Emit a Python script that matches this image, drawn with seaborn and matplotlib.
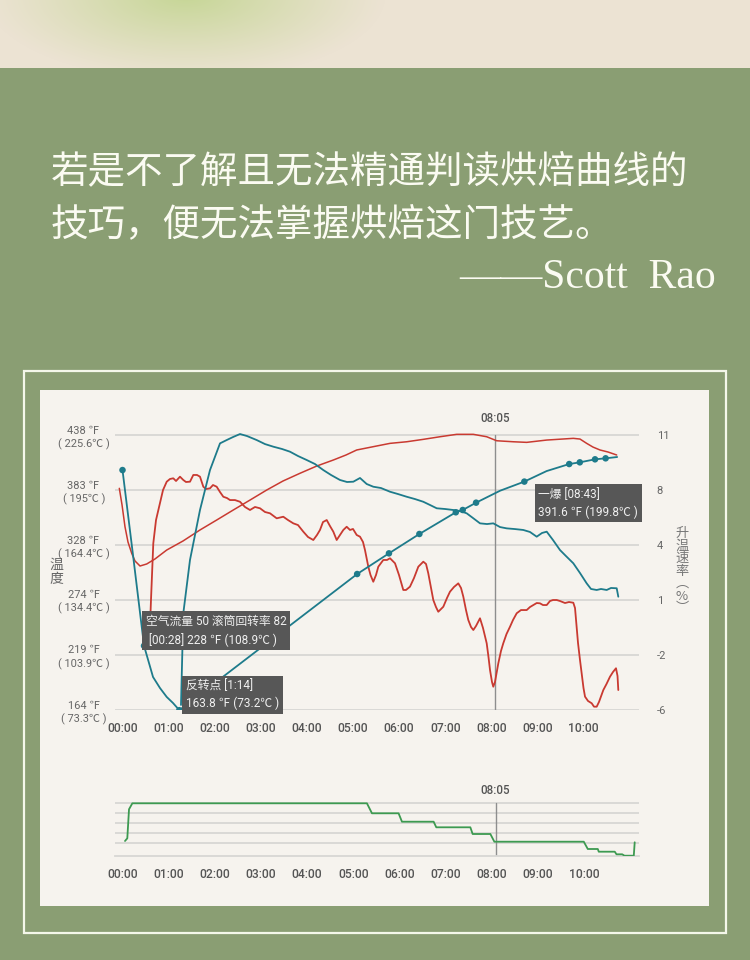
import numpy as np
import pandas as pd
import matplotlib
matplotlib.use("Agg")
import matplotlib.pyplot as plt
import seaborn as sns
from matplotlib.patches import Rectangle

# ---------------- data (time in minutes, temperatures in °F) ----------------
bt_t = [0.0, 0.228, 0.467, 0.662, 0.813, 0.959, 1.095, 1.233, 5.09, 5.78, 6.44,
        7.23, 7.38, 7.67, 8.19, 8.717, 9.20, 9.69, 9.92, 10.25, 10.48, 10.73]
bt_f = [403.1, 318.4, 228.0, 196.9, 185.9, 177.0, 171.0, 163.8, 299.5, 320.1, 339.4,
        361.0, 363.3, 370.6, 382.5, 391.6, 402.1, 409.1, 410.8, 413.8, 414.8, 416.1]
bt_mark_t = [0.0, 0.467, 1.233, 5.09, 5.78, 6.44, 7.23, 7.38, 7.67, 8.717, 9.69, 9.92, 10.25, 10.48]
bt_mark_f = [403.1, 228.0, 163.8, 299.5, 320.1, 339.4, 361.0, 363.3, 370.6, 391.6, 409.1, 410.8, 413.8, 414.8]

ror_t = [1.269, 1.319, 1.464, 1.681, 1.898, 2.115, 2.260, 2.397, 2.549, 2.701, 2.911, 3.091,
         3.271, 3.460, 3.633, 3.807, 3.996, 4.176, 4.356, 4.523, 4.718, 4.870, 5.007, 5.152,
         5.297, 5.440, 5.607, 5.803, 5.976, 6.165, 6.345, 6.525, 6.670, 6.816, 6.996, 7.176,
         7.321, 7.466, 7.603, 7.755, 7.907, 8.043, 8.189, 8.334, 8.514, 8.694, 8.839, 8.985,
         9.100, 9.202, 9.338, 9.490, 9.620, 9.779, 9.924, 10.069, 10.163, 10.286, 10.380,
         10.503, 10.597, 10.720, 10.755]
ror_f = [169.0, 260.4, 313.5, 363.3, 403.1, 429.7, 433.0, 436.0, 439.0, 437.0, 433.0, 429.0,
         426.4, 424.1, 421.4, 417.1, 413.1, 409.1, 403.1, 398.2, 393.2, 391.2, 391.5, 395.2,
         389.2, 386.5, 385.2, 381.5, 379.2, 376.5, 374.2, 371.5, 368.3, 365.0, 364.3, 363.3,
         362.3, 360.0, 355.3, 350.0, 349.3, 350.0, 346.3, 345.0, 344.3, 343.4, 341.4, 336.7,
         340.4, 341.7, 333.4, 323.4, 317.4, 310.2, 300.5, 290.2, 284.6, 283.6, 284.6,
         283.6, 285.6, 285.3, 276.9]

et_t = [-0.069, -0.01, 0.054, 0.119, 0.200, 0.271, 0.380, 0.525, 0.705, 0.959, 1.312, 1.681,
        2.043, 2.403, 2.766, 3.128, 3.482, 3.851, 4.213, 4.573, 4.848, 5.080, 5.440, 5.803,
        6.165, 6.525, 6.887, 7.249, 7.610, 7.900, 8.117, 8.477, 8.768, 9.202, 9.779, 9.924,
        10.069, 10.206, 10.358, 10.531, 10.720]
et_f = [384.9, 368.3, 346.6, 331.4, 320.1, 312.5, 307.5, 309.5, 314.5, 323.4, 332.4, 343.4,
        353.3, 363.3, 373.2, 383.2, 392.2, 399.9, 407.1, 413.1, 418.1, 423.1, 426.4, 429.7,
        431.3, 433.7, 436.3, 438.7, 438.7, 436.3, 432.3, 431.3, 430.7, 433.0, 434.7, 434.0,
        429.7, 426.0, 423.1, 421.1, 418.1]

air_t = [0.586, 0.618, 0.668, 0.727, 0.813, 0.879, 0.959, 1.030, 1.102, 1.161, 1.247, 1.319,
         1.377, 1.464, 1.536, 1.616, 1.681, 1.753, 1.811, 1.898, 1.963, 2.043, 2.115, 2.187,
         2.267, 2.332, 2.440, 2.549, 2.657, 2.766, 2.874, 2.983, 3.091, 3.200, 3.345, 3.488,
         3.590, 3.705, 3.807, 3.922, 4.024, 4.139, 4.219, 4.284, 4.349, 4.430, 4.501, 4.573,
         4.646, 4.718, 4.790, 4.863, 4.935, 5.000, 5.080, 5.152, 5.217, 5.260, 5.332, 5.380,
         5.440, 5.499, 5.549, 5.657, 5.738, 5.803, 5.911, 5.998, 6.091, 6.150, 6.236, 6.323,
         6.417, 6.525, 6.584, 6.633, 6.692, 6.742, 6.800, 6.850, 6.909, 6.959, 7.039, 7.104,
         7.191, 7.284, 7.343, 7.393, 7.451, 7.501, 7.560, 7.610, 7.668, 7.755, 7.820, 7.900,
         7.939, 7.972, 8.015, 8.043, 8.080, 8.152, 8.210, 8.260, 8.330, 8.406, 8.471, 8.551,
         8.644, 8.768, 8.839, 8.911, 8.985, 9.056, 9.121, 9.202, 9.273, 9.338, 9.419, 9.490,
         9.599, 9.685, 9.779, 9.816, 9.852, 9.881, 9.924, 9.967, 10.000, 10.033, 10.098,
         10.178, 10.228, 10.286, 10.336, 10.430, 10.499, 10.575, 10.640, 10.705, 10.738, 10.755]
air_f = [233.7, 273.6, 330.1, 353.3, 370.0, 383.2, 391.5, 394.2, 394.9, 392.2, 396.5, 393.2,
         391.2, 391.5, 398.2, 398.2, 396.5, 386.5, 384.2, 384.9, 388.2, 386.5, 381.2, 376.5,
         375.2, 373.2, 373.2, 371.5, 366.3, 363.3, 366.3, 365.0, 361.3, 360.0, 355.0, 356.6,
         353.3, 350.0, 348.3, 341.7, 336.4, 333.4, 338.4, 343.4, 351.3, 353.3, 347.3, 341.7,
         333.4, 338.4, 343.4, 346.6, 343.4, 344.4, 338.4, 336.7, 331.4, 323.4, 306.8, 298.5,
         291.8, 298.5, 306.8, 313.5, 313.5, 315.2, 310.2, 298.5, 283.6, 283.6, 286.9, 295.5,
         306.8, 311.8, 309.5, 300.2, 285.6, 273.6, 266.6, 261.9, 264.6, 266.9, 275.6, 281.9,
         286.6, 290.2, 285.6, 276.9, 263.6, 253.7, 246.7, 243.7, 247.7, 255.4, 245.7, 230.5,
         216.8, 203.9, 191.9, 187.2, 191.9, 210.5, 222.8, 230.5, 239.7, 247.0, 253.7, 260.4,
         263.6, 263.6, 266.6, 268.6, 270.6, 270.3, 268.6, 268.6, 272.6, 273.6, 273.6, 272.6,
         270.6, 271.6, 270.9, 265.6, 247.0, 230.8, 213.8, 197.9, 185.9, 177.3, 173.0,
         170.7, 167.3, 167.3, 172.0, 183.9, 189.9, 197.2, 201.9, 205.6, 197.9, 183.9]

flow_t = [0.054, 0.104, 0.141, 0.213, 5.297, 5.406, 5.983, 6.056, 6.742, 6.80, 7.538, 7.588,
          7.972, 8.058, 9.996, 10.083, 10.30, 10.321, 10.668, 10.705, 10.829, 10.878, 11.08, 11.10]
flow_v = [12.3, 15.0, 44.0, 50.0, 50.0, 40.0, 40.0, 31.6, 31.6, 26.0, 26.0, 19.3,
          19.3, 11.6, 11.6, 4.3, 4.3, 1.6, 1.6, -1.0, -1.0, -2.4, -2.4, 11.0]

temp_ticks = [164, 219, 274, 328, 383, 438]
temp_labels = ["164 ℉\n( 73.3℃ )", "219 ℉\n( 103.9℃ )", "274 ℉\n( 134.4℃ )",
               "328 ℉\n( 164.4℃ )", "383 ℉\n( 195℃ )", "438 ℉\n( 225.6℃ )"]
ror_labels = ["-6", "-2", "1", "4", "8", "11"]
minute_ticks = list(range(11))
minute_labels = [f"{m:02d}:00" for m in minute_ticks]
fc_t = 8 + 5 / 60
flow_grid = [10, 20, 30, 40, 50]

# ---------------- style ----------------
sns.set_theme(style="white")
plt.rcParams['font.family'] = ['Roboto', 'Noto Sans CJK SC', 'DejaVu Sans']
plt.rcParams['axes.unicode_minus'] = False

TEAL = '#1E7B8B'
RED = '#C93A31'
GREEN = '#3D9A51'
GRID = '#D8D7D4'
TXT = '#555555'
BG = '#8A9E73'
PANEL = '#F6F3EE'

W, H = 750, 960
fig = plt.figure(figsize=(7.5, 9.6), dpi=100)
fig.patch.set_facecolor(BG)


def fx(px):
    return px / W


def fy(py):
    return 1 - py / H


# frame and panel (drawn beneath the axes)
fig.patches.append(Rectangle((fx(24), fy(933)), 702 / W, 562 / H, transform=fig.transFigure,
                             fill=False, ec='#F4F7EA', lw=1.6, zorder=-10))
fig.patches.append(Rectangle((fx(40), fy(906)), 669 / W, 516 / H, transform=fig.transFigure,
                             fc=PANEL, ec='none', zorder=-10))

# top beige band with soft green glow
band = fig.add_axes([0, fy(68), 1, 68 / H])
band.set_axis_off()
yy, xx = np.mgrid[0:68, 0:750]
d = np.sqrt(((xx - 185) / 200.0) ** 2 + ((yy + 5) / 85.0) ** 2)
w = np.clip(1 - d, 0, 1) ** 1.1
base = np.array([236, 227, 211]) / 255
blob = np.array([198, 214, 150]) / 255
img = base * (1 - w[..., None]) + blob * w[..., None]
band.imshow(img, aspect='auto', extent=[0, 750, 68, 0], interpolation='bilinear')

# quote
QC = '#FBFBF2'
fig.text(fx(51), fy(173), "若是不了解且无法精通判读烘焙曲线的", fontsize=27, color=QC,
         family=['Noto Sans CJK SC'], va='center', ha='left')
fig.text(fx(51), fy(226), "技巧，便无法掌握烘焙这门技艺。", fontsize=27, color=QC,
         family=['Noto Sans CJK SC'], va='center', ha='left')
fig.text(fx(716), fy(278), "——Scott  Rao", fontsize=30, color=QC,
         family=['Liberation Serif'], va='center', ha='right')

# ---------------- main chart ----------------
L, R = 115, 638.5
XL = ((L - 122.5) / 46.1, (R - 122.5) / 46.1)
ax = fig.add_axes([fx(L), fy(710), (R - L) / W, (710 - 425) / H])
ax.set_facecolor('none')
ax.set_xlim(XL)
ax.set_ylim(164, 448.0)
for s in ax.spines.values():
    s.set_visible(False)
ax.set_yticks(temp_ticks)
ax.set_yticklabels(temp_labels, fontsize=7.9, color='#666666', linespacing=1.3)
for lab in ax.get_yticklabels():
    lab.set_horizontalalignment('center')
ax.tick_params(axis='y', length=0, pad=22.5)
ax.yaxis.grid(True, color=GRID, lw=1.3)
ax.set_xticks(minute_ticks)
ax.set_xticklabels(minute_labels, fontsize=8.7, color=TXT, fontweight='medium')
ax.tick_params(axis='x', length=4.5, width=1, color='#CFCFCF', pad=4.2, direction='out')

ax2 = ax.twinx()
ax2.set_ylim(ax.get_ylim())
ax2.set_yticks(temp_ticks)
ax2.set_yticklabels(ror_labels, fontsize=8, color='#666666')
ax2.tick_params(axis='y', length=0, pad=13)
for s in ax2.spines.values():
    s.set_visible(False)

sns.lineplot(x=et_t, y=et_f, ax=ax, color=RED, lw=1.1, sort=False, estimator=None, zorder=3)
sns.lineplot(x=air_t, y=air_f, ax=ax, color=RED, lw=1.3, sort=False, estimator=None, zorder=3)
sns.lineplot(x=ror_t, y=ror_f, ax=ax, color=TEAL, lw=1.3, sort=False, estimator=None, zorder=3)
sns.lineplot(x=bt_t, y=bt_f, ax=ax, color=TEAL, lw=1.3, sort=False, estimator=None, zorder=4)
sns.scatterplot(x=bt_mark_t, y=bt_mark_f, ax=ax, color=TEAL, s=22, edgecolor='none', zorder=5)
ax.set_xlabel('')
ax.set_ylabel('')

ax.axvline(fc_t, ymin=0, ymax=(438 - 164) / (448 - 164), color='#8E8E8E', lw=1.0, zorder=2)
ax.text(fc_t, 454, "08:05", ha='center', va='center', fontsize=8.3, color=TXT,
        fontweight='medium', clip_on=False)

box = dict(boxstyle='square,pad=0.3', fc='#575757', ec='none')
ann = [("空气流量 50 滚筒回转率 82\n [00:28] 228 ℉ (108.9℃ )", 0.467, 228.0, 2, 31),
       ("反转点 [1:14]\n163.8 ℉ (73.2℃ )", 1.233, 163.8, 6.6, 31),
       ("一爆 [08:43]\n391.6 ℉ (199.8℃ )", 8.717, 391.6, 14, -6)]
for txt, tx, ty, dx, dy in ann:
    ax.annotate(txt, xy=(tx, ty), xytext=(dx, dy), textcoords='offset pixels',
                ha='left', va='top', fontsize=8.5, color='#F0F0F0', linespacing=1.45,
                bbox=box, zorder=10, annotation_clip=False)

fig.text(fx(56), fy(572), "温\n度", fontsize=10, color='#666666', ha='center', va='center',
         linespacing=1.0, family=['Noto Sans CJK SC'])
fig.text(fx(682), fy(571), "升\n温\n速\n率\n︵\n%\n︶", fontsize=9.5, color='#777777',
         ha='center', va='center', linespacing=0.95, family=['Noto Sans CJK SC'])

# ---------------- bottom chart ----------------
bx = fig.add_axes([fx(L), fy(856), (639 - L) / W, (856 - 798) / H])
bx.set_facecolor('none')
bx.set_xlim(XL)
bx.set_ylim(-2.7, 55.3)
for k, s in bx.spines.items():
    s.set_visible(k == 'bottom')
bx.spines['bottom'].set_color(GRID)
bx.spines['bottom'].set_linewidth(1.3)
bx.set_yticks(flow_grid)
bx.set_yticklabels([])
bx.tick_params(axis='y', length=0)
bx.yaxis.grid(True, color=GRID, lw=1.3)
bx.set_xticks(minute_ticks)
bx.set_xticklabels(minute_labels, fontsize=8.7, color=TXT, fontweight='medium')
bx.tick_params(axis='x', length=4.5, width=1, color='#CFCFCF', pad=4.2, direction='out')
sns.lineplot(x=flow_t, y=flow_v, ax=bx, color=GREEN, lw=1.3, sort=False, estimator=None, zorder=3)
bx.set_xlabel('')
bx.set_ylabel('')
bx.axvline(fc_t, ymin=0, ymax=(50 + 2.7) / 58, color='#8E8E8E', lw=1.0, zorder=2)
bx.text(fc_t, 62.3, "08:05", ha='center', va='center', fontsize=8.3, color=TXT,
        fontweight='medium', clip_on=False)

fig.savefig("out.png", dpi=100, facecolor=fig.get_facecolor())
